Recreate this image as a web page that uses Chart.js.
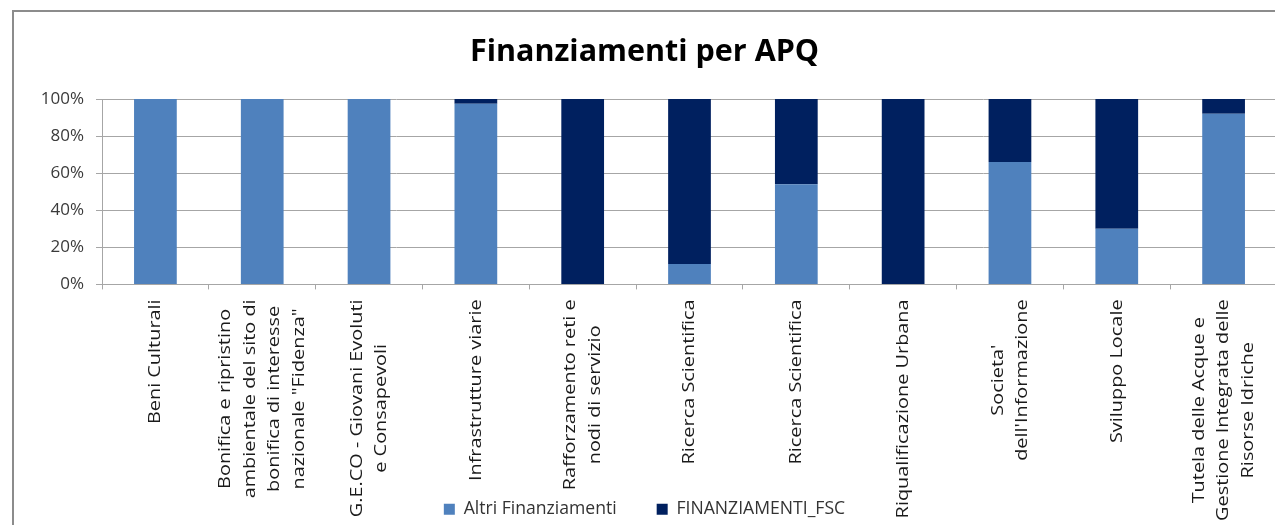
<!DOCTYPE html>
<html>
<head>
<meta charset="utf-8">
<script src="https://cdn.jsdelivr.net/npm/chart.js@4.4.1/dist/chart.umd.min.js"></script>
<style>
  html, body { margin: 0; padding: 0; background: #ffffff; overflow: hidden; width: 1275px; height: 525px; }
  #wrap { position: absolute; left: 12px; top: 10px; width: 1280px; height: 518px; }
  #frame { position: absolute; left: 12px; top: 10px; width: 1300px; height: 540px;
           border-left: 2px solid #8c8c8c; border-top: 2px solid #8c8c8c; pointer-events: none; box-sizing: border-box; }
</style>
</head>
<body>
<div id="wrap"><canvas id="c" width="1280" height="518"></canvas></div>
<div id="frame"></div>
<script>
// ---- data ----
const categories = [
  ['Beni Culturali'],
  ['Bonifica e ripristino', 'ambientale del sito di', 'bonifica di interesse', 'nazionale "Fidenza"'],
  ['G.E.CO - Giovani Evoluti', 'e Consapevoli'],
  ['Infrastrutture viarie'],
  ['Rafforzamento reti e', 'nodi di servizio'],
  ['Ricerca Scientifica'],
  ['Ricerca Scientifica'],
  ['Riqualificazione Urbana'],
  ["Societa'", "dell'Informazione"],
  ['Sviluppo Locale'],
  ['Tutela delle Acque e', 'Gestione Integrata delle', 'Risorse Idriche']
];
const altriFinanziamenti = [100, 100, 100, 97.5, 0, 11, 54, 0, 66, 30, 92];
const finanziamentiFSC   = [0, 0, 0, 2.5, 100, 89, 46, 100, 34, 70, 8];
const yTicks = [0, 20, 40, 60, 80, 100];
const seriesNames = ['Altri Finanziamenti', 'FINANZIAMENTI_FSC'];
const chartTitle = 'Finanziamenti per APQ';

// ---- custom rotated, centred multi-line category labels ----
const xLabelPlugin = {
  id: 'xLabels',
  afterDraw(chart) {
    const ctx = chart.ctx;
    const xs = chart.scales.x;
    const top = chart.chartArea.bottom + 15;
    const stretch = 1.17;
    const pitch = 24.5;
    ctx.save();
    ctx.font = '17px "Open Sans"';
    ctx.fillStyle = '#1a1a1a';
    ctx.textAlign = 'center';
    ctx.textBaseline = 'middle';
    categories.forEach((lines, i) => {
      const cx = xs.getPixelForValue(i);
      let maxW = 0;
      lines.forEach(l => { maxW = Math.max(maxW, ctx.measureText(l).width * stretch); });
      const cy = top + maxW / 2;
      lines.forEach((l, j) => {
        const x = cx + (j - (lines.length - 1) / 2) * pitch;
        ctx.save();
        ctx.translate(x, cy);
        ctx.rotate(-Math.PI / 2);
        ctx.scale(stretch, 1);
        ctx.fillText(l, 0, 0);
        ctx.restore();
      });
    });
    ctx.restore();
  }
};

new Chart(document.getElementById('c'), {
  type: 'bar',
  data: {
    labels: categories,
    datasets: [
      { label: seriesNames[0], data: altriFinanziamenti, backgroundColor: '#4F81BD',
        barPercentage: 0.4, categoryPercentage: 1.0 },
      { label: seriesNames[1], data: finanziamentiFSC, backgroundColor: '#00205F',
        barPercentage: 0.4, categoryPercentage: 1.0 }
    ]
  },
  options: {
    responsive: false,
    animation: false,
    devicePixelRatio: 1,
    layout: { padding: { left: 0, right: 15, top: 0, bottom: 0 } },
    plugins: {
      title: {
        display: true, text: chartTitle, color: '#000000',
        font: { family: '"Open Sans"', size: 30.5, weight: 'bold' },
        padding: { top: 24, bottom: 28.4 }
      },
      legend: {
        position: 'bottom',
        labels: {
          boxWidth: 11, boxHeight: 11, padding: 40, color: '#333333',
          font: { family: '"Open Sans"', size: 17.6 }
        }
      },
      tooltip: { enabled: false }
    },
    scales: {
      x: {
        stacked: true,
        offset: true,
        grid: { display: true, drawOnChartArea: false, offset: true, tickLength: 5, color: '#a6a6a6' },
        border: { color: '#a6a6a6' },
        ticks: { display: false },
        afterFit(scale) { scale.height = 176; }
      },
      y: {
        stacked: true,
        min: 0, max: 100,
        afterBuildTicks(scale) { scale.ticks = yTicks.map(v => ({ value: v })); },
        grid: { color: '#a6a6a6', tickLength: 6 },
        border: { color: '#a6a6a6' },
        ticks: {
          padding: 12, color: '#3a3a3a',
          font: { family: '"Open Sans"', size: 17 },
          callback: v => v + '%'
        },
        afterFit(scale) { scale.width = 90; }
      }
    }
  },
  plugins: [xLabelPlugin]
});
</script>
</body>
</html>
